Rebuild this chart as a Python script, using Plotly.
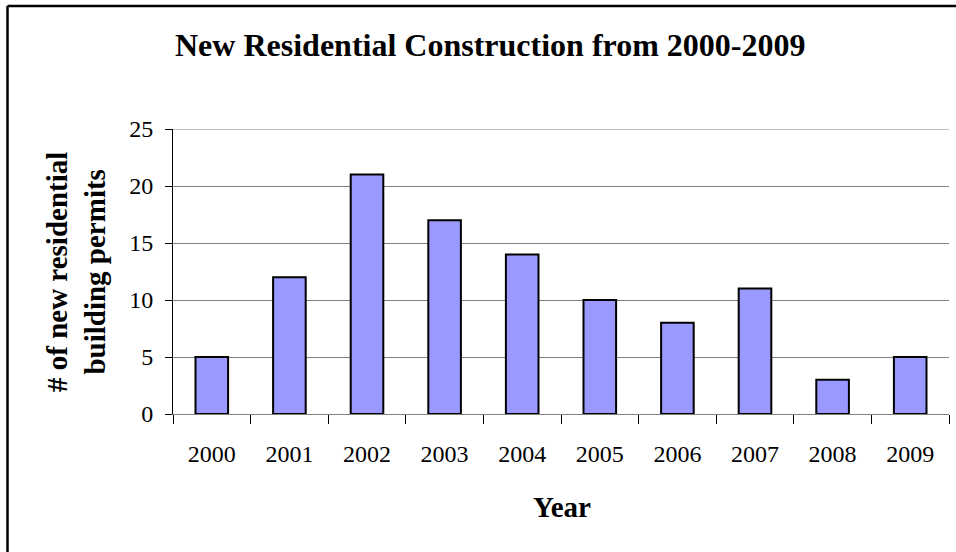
import plotly.graph_objects as go

years = ["2000", "2001", "2002", "2003", "2004", "2005", "2006", "2007", "2008", "2009"]
permits = [5, 12, 21, 17, 14, 10, 8, 11, 3, 5]
y_ticks = [0, 5, 10, 15, 20, 25]

title_text = "New Residential Construction from 2000-2009"
x_title = "Year"
y_title = "# of new residential<br>building permits"

FONT = "Liberation Serif"

fig = go.Figure(
    go.Bar(
        x=years,
        y=permits,
        width=0.42,
        marker=dict(color="#9999FF", line=dict(color="#000000", width=2)),
    )
)

W, H = 956, 552
L, R, T, B = 173, 7, 129, 138
pw, ph = W - L - R, H - T - B

def px(xp):
    return (xp - L) / pw

def py(yp):
    return (H - B - yp) / ph

fig.update_layout(
    width=W,
    height=H,
    margin=dict(l=L, r=R, t=T, b=B, pad=0),
    paper_bgcolor="white",
    plot_bgcolor="white",
    showlegend=False,
    font=dict(family=FONT, color="black", size=24),
)

fig.update_xaxes(
    type="category",
    showgrid=False,
    showline=True,
    linecolor="#808080",
    linewidth=1,
    ticks="outside",
    tickson="boundaries",
    ticklen=9,
    tickcolor="black",
    tickwidth=1,
    tickfont=dict(size=24, family=FONT),
    ticklabelstandoff=18,
    zeroline=False,
)
fig.update_yaxes(
    range=[0, max(y_ticks)],
    tickvals=y_ticks,
    showgrid=True,
    gridcolor="#808080",
    gridwidth=1,
    showline=True,
    linecolor="black",
    linewidth=1,
    ticks="outside",
    ticklen=7,
    tickcolor="black",
    tickfont=dict(size=24, family=FONT),
    ticklabelstandoff=7,
    zeroline=False,
)

# top gridline at the upper end of the value axis
fig.add_shape(type="line", xref="paper", yref="y",
              x0=0, x1=1, y0=max(y_ticks), y1=max(y_ticks),
              line=dict(color="#808080", width=1), layer="below")

fig.add_annotation(
    text="<b>" + title_text + "</b>", xref="paper", yref="paper",
    x=px(490), y=py(45), showarrow=False, xanchor="center", yanchor="middle",
    font=dict(size=32, family=FONT),
)
fig.add_annotation(
    text="<b>" + x_title + "</b>", xref="paper", yref="paper",
    x=px(562), y=py(507), showarrow=False, xanchor="center", yanchor="middle",
    font=dict(size=29, family=FONT),
)
fig.add_annotation(
    text="<b>" + y_title + "</b>", xref="paper", yref="paper",
    x=px(76), y=py(272), showarrow=False, xanchor="center", yanchor="middle",
    textangle=-90, font=dict(size=29, family=FONT),
)

# outer chart border (top and left edges visible)
fig.add_shape(type="line", xref="paper", yref="paper",
              x0=px(7.5), x1=px(960), y0=py(6), y1=py(6),
              line=dict(color="black", width=2.5))
fig.add_shape(type="line", xref="paper", yref="paper",
              x0=px(7.5), x1=px(7.5), y0=py(6), y1=py(560),
              line=dict(color="black", width=2.5))

fig.write_html("out.html", config={"displayModeBar": False},
               post_script="document.body.style.margin='0';")
